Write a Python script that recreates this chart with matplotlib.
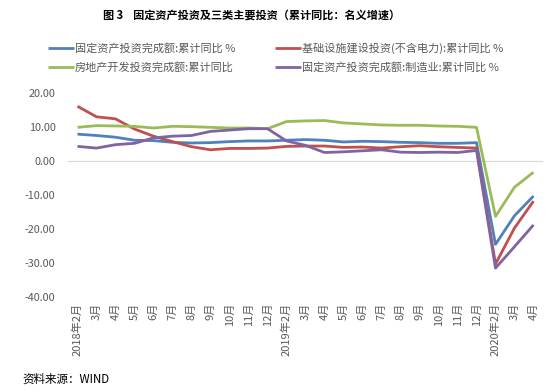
import numpy as np
import matplotlib
matplotlib.use('Agg')
import matplotlib.pyplot as plt

plt.rcParams['font.family'] = ['Noto Sans CJK SC', 'DejaVu Sans']

# x axis labels (monthly, cumulative data)
months = ['2018年2月', '3月', '4月', '5月', '6月', '7月', '8月', '9月', '10月', '11月', '12月',
          '2019年2月', '3月', '4月', '5月', '6月', '7月', '8月', '9月', '10月', '11月', '12月',
          '2020年2月', '3月', '4月']

fai_total = [7.9, 7.5, 7.0, 6.1, 6.0, 5.5, 5.3, 5.4, 5.7, 5.9, 5.9,
             6.1, 6.3, 6.1, 5.6, 5.8, 5.7, 5.5, 5.4, 5.2, 5.2, 5.4,
             -24.5, -16.1, -10.3]
infra = [16.1, 13.0, 12.4, 9.4, 7.3, 5.7, 4.2, 3.3, 3.7, 3.7, 3.8,
         4.3, 4.4, 4.4, 4.0, 4.1, 3.8, 4.2, 4.5, 4.2, 4.0, 3.8,
         -30.3, -19.7, -11.8]
estate = [9.9, 10.4, 10.3, 10.2, 9.7, 10.2, 10.1, 9.9, 9.7, 9.7, 9.5,
          11.6, 11.8, 11.9, 11.2, 10.9, 10.6, 10.5, 10.5, 10.3, 10.2, 9.9,
          -16.3, -7.7, -3.3]
manuf = [4.3, 3.8, 4.8, 5.2, 6.8, 7.3, 7.5, 8.7, 9.1, 9.5, 9.5,
         5.9, 4.6, 2.5, 2.7, 3.0, 3.3, 2.6, 2.5, 2.6, 2.5, 3.1,
         -31.5, -25.2, -18.8]

names = ['固定资产投资完成额:累计同比 %', '基础设施建设投资(不含电力):累计同比 %',
         '房地产开发投资完成额:累计同比', '固定资产投资完成额:制造业:累计同比 %']
colors = ['#4F81BD', '#C0504D', '#9BBB59', '#8064A2']

fig = plt.figure(figsize=(5.5, 3.91), dpi=100)
ax = fig.add_axes([68 / 550., 1 - 297 / 391., 475 / 550., 204 / 391.])

x = np.arange(len(months))
lines = []
for y, c, n in zip([fai_total, infra, estate, manuf], colors, names):
    l, = ax.plot(x, y, color=c, lw=2.0, label=n, solid_capstyle='butt')
    lines.append(l)

ax.axhline(0, color='#D9D9D9', lw=0.8, zorder=0)
ax.set_xlim(-0.5, len(months) - 0.5)
ax.set_ylim(-40, 20)
ax.set_yticks(np.arange(-40, 21, 10))
ax.set_yticklabels(['%.2f' % v for v in np.arange(-40, 21, 10)])
ax.set_xticks(x)
ax.set_xticklabels(months, rotation=90, va='top')
ax.tick_params(axis='y', length=0, pad=9, labelsize=7.8, colors='#595959')
ax.tick_params(axis='x', length=0, pad=4, labelsize=8, colors='#595959')
for s in ax.spines.values():
    s.set_visible(False)

order = [0, 2, 1, 3]
leg = fig.legend([lines[i] for i in order], [names[i] for i in order],
                 loc='upper left', bbox_to_anchor=(44 / 550., 1 - 38 / 391.),
                 ncol=2, frameon=False, fontsize=8, handlelength=2.3,
                 handletextpad=0.1, columnspacing=3.6, labelspacing=0.7,
                 borderaxespad=0)
for t in leg.get_texts():
    t.set_color('#595959')

fig.text(252 / 550., 1 - 15 / 391., '图 3    固定资产投资及三类主要投资（累计同比：名义增速）',
         ha='center', va='center', fontsize=8, fontweight='bold')
fig.text(22 / 550., 1 - 379 / 391., '资料来源：WIND', ha='left', va='center', fontsize=8.3)

fig.savefig('out.png', dpi=100)
